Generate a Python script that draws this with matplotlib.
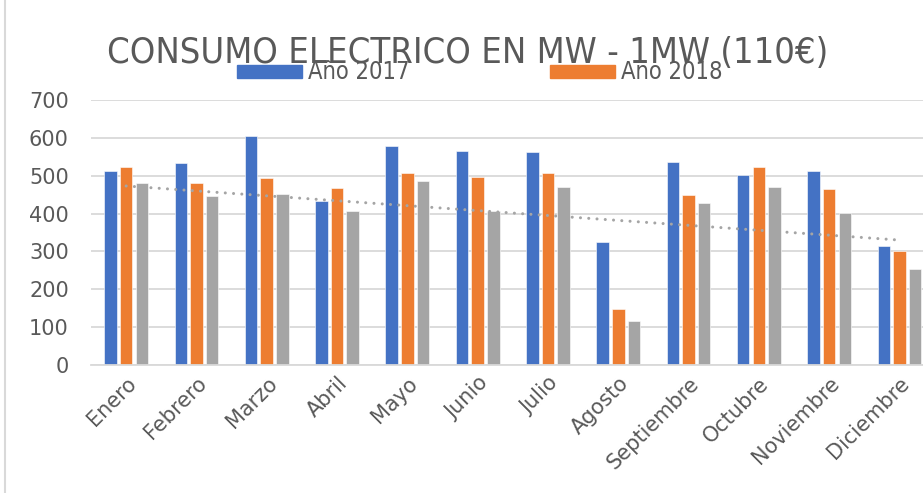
import matplotlib
import matplotlib.pyplot as plt
import numpy as np
from matplotlib import font_manager
from matplotlib.lines import Line2D

matplotlib.use("Agg")

meses = ["Enero", "Febrero", "Marzo", "Abril", "Mayo", "Junio", "Julio",
         "Agosto", "Septiembre", "Octubre", "Noviembre", "Diciembre"]
consumo_2017 = [513, 534, 606, 433, 579, 565, 562, 324, 535, 502, 513, 315]
consumo_2018 = [524, 480, 493, 467, 507, 497, 507, 148, 449, 524, 464, 300]
consumo_2019 = [480, 447, 452, 406, 486, 407, 470, 116, 429, 469, 402, 253]
y_ticks = [0, 100, 200, 300, 400, 500, 600, 700]

# look for a condensed / narrow face for the title
narrow_file = None
for f in font_manager.fontManager.ttflist:
    name = (f.name + " " + f.fname).lower()
    if f.style != "normal" or f.weight not in (400, "normal", "regular"):
        continue
    if ("narrow" in name or "condensed" in name or
            f.stretch in ("condensed", "semi-condensed", "extra-condensed")):
        if "mono" in name or "serif" in name.replace("sans", ""):
            continue
        narrow_file = f.fname
        break

if narrow_file:
    title_font = font_manager.FontProperties(fname=narrow_file, size=26)
    legend_font = font_manager.FontProperties(fname=narrow_file, size=17)
else:
    title_font = font_manager.FontProperties(family="DejaVu Sans", size=23)
    legend_font = font_manager.FontProperties(family="DejaVu Sans", size=14)

grey_text = "#595959"
colors = ["#4472C4", "#ED7D31", "#A5A5A5"]

fig = plt.figure(figsize=(9.23, 4.93), dpi=100)
ax = fig.add_axes([91 / 923, 128 / 493, 843.6 / 923, 265 / 493])

x = np.arange(len(meses))
pitch = 0.223
width = 0.178
for k, (serie, c) in enumerate(zip([consumo_2017, consumo_2018, consumo_2019], colors)):
    ax.bar(x + (k - 1) * pitch, serie, width, color=c, edgecolor="white",
           linewidth=0.4, zorder=2)

# linear trend of the third series
coef = np.polyfit(x, consumo_2019, 1)
ax.plot(x, np.polyval(coef, x), color="#A5A5A5", linewidth=2.2,
        linestyle=(0, (0.01, 2.7)), dash_capstyle="round", zorder=3)

ax.set_xlim(-0.5, len(meses) - 0.5)
ax.set_ylim(0, 700)
ax.set_yticks(y_ticks)
ax.yaxis.grid(True, color="#D9D9D9", linewidth=1.3, zorder=0)
ax.set_axisbelow(True)
for s in ["top", "right", "left"]:
    ax.spines[s].set_visible(False)
ax.spines["bottom"].set_color("#D9D9D9")
ax.spines["bottom"].set_linewidth(1.3)
ax.tick_params(axis="both", length=0, colors=grey_text, labelsize=15)
ax.tick_params(axis="y", pad=16)
ax.set_xticks(x)
ax.set_xticklabels(meses, rotation=45, ha="right", rotation_mode="anchor")
ax.tick_params(axis="x", pad=6)

fig.text(468 / 923, 1 - 53 / 493, "CONSUMO ELECTRICO EN MW - 1MW (110€)",
         ha="center", va="center", color=grey_text, fontproperties=title_font)

# legend (only first two series shown)
legend_items = [("Año 2017", colors[0], 237), ("Año 2018", colors[1], 550)]
for label, c, px in legend_items:
    fig.patches.append(plt.Rectangle((px / 923, 1 - 78 / 493), 65 / 923, 13 / 493,
                                     transform=fig.transFigure, color=c, zorder=5))
    fig.text((px + 71) / 923, 1 - 72 / 493, label, ha="left", va="center",
             color=grey_text, fontproperties=legend_font, zorder=6)

fig.add_artist(Line2D([5 / 923, 5 / 923], [0, 1], color="#D9D9D9", linewidth=1.5))

fig.savefig("out.png", dpi=100)
